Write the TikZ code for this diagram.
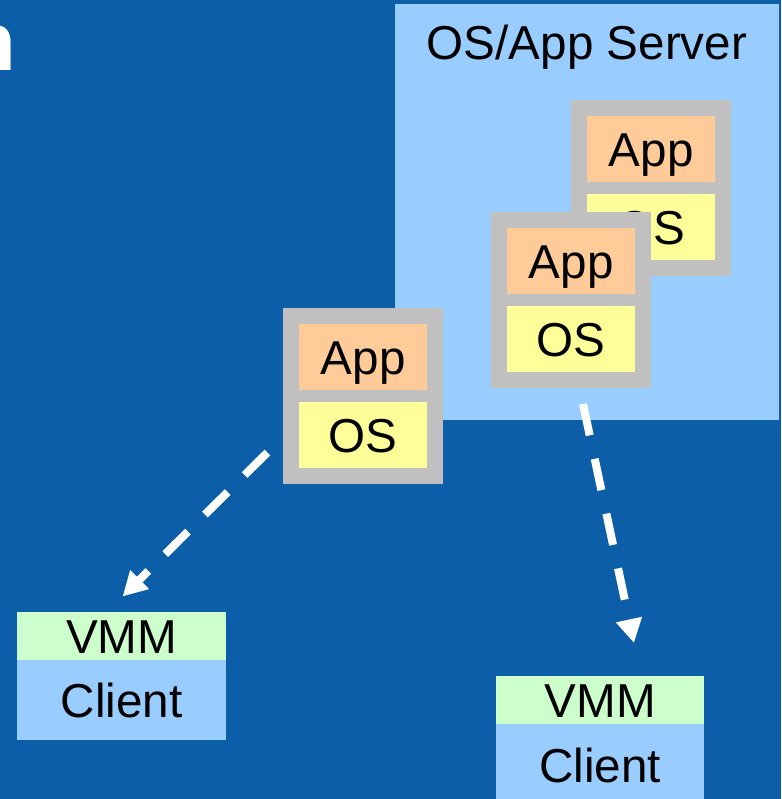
\documentclass[tikz,border=0pt]{standalone}
\usepackage{fontspec}
\setmainfont{Liberation Sans}
\usetikzlibrary{arrows.meta}
\definecolor{bgblue}{RGB}{11,94,167}
\definecolor{lightblue}{RGB}{153,204,255}
\definecolor{appc}{RGB}{255,204,153}
\definecolor{osc}{RGB}{255,255,153}
\definecolor{vmmc}{RGB}{204,255,204}
\definecolor{grayc}{RGB}{192,192,192}
\newcommand{\bodyfont}{\fontsize{47.6pt}{57pt}\selectfont}
\tikzset{
  box/.style={anchor=north west, inner sep=0pt, draw=none},
  stackbox/.style={box, fill=grayc, minimum width=160pt, minimum height=176pt},
  layer/.style={box, minimum width=128pt, minimum height=66pt, text height=34pt, text depth=0pt, font=\bodyfont},
  applayer/.style={layer, fill=appc},
  oslayer/.style={layer, fill=osc},
  vmmbox/.style={box, fill=vmmc, minimum width=209pt, minimum height=48pt, text height=34pt, text depth=0pt, font=\bodyfont},
  clientbox/.style={box, fill=lightblue, minimum width=209pt, text height=34pt, text depth=0pt, font=\bodyfont},
  conn/.style={white, line width=8pt, line cap=butt, dash pattern=on 32pt off 24pt, -{Triangle[length=24pt,width=25pt]}}
}
\begin{document}
\begin{tikzpicture}[x=1pt,y=-1pt]
\useasboundingbox (0,0) rectangle (781,799);
\fill[bgblue] (0,0) rectangle (781,799);
\begin{scope}
\clip (0,0) rectangle (781,799);
% fragment of a title letter at the left edge
\node (titlefrag) [anchor=base east, inner sep=0pt, text=white, font=\fontsize{83pt}{90pt}\selectfont\bfseries] at (16.5,71) {n};
% server area
\node (server) [box, fill=lightblue, minimum width=384pt, minimum height=416pt] at (395,4) {};
\node (title) [anchor=base, inner sep=0pt, font=\bodyfont] at (587,60) {OS/App Server};
% back stack
\node (backstack) [stackbox] at (571,100) {};
\node (backapp) [applayer] at (587,116) {App};
\node (backos) [oslayer] at (587,194) {OS};
% middle stack
\node (midstack) [stackbox] at (491,212) {};
\node (midapp) [applayer] at (507,228) {App};
\node (midos) [oslayer] at (507,306) {OS};
% front stack
\node (frontstack) [stackbox] at (283,308) {};
\node (frontapp) [applayer] at (299,324) {App};
\node (frontos) [oslayer] at (299,402) {OS};
% clients
\node (vmmL) [vmmbox] at (17,612) {VMM};
\node (clientL) [clientbox, minimum height=80pt] at (17,660) {Client};
\node (vmmR) [vmmbox, minimum width=208pt] at (496,676) {VMM};
\node (clientR) [clientbox, minimum width=208pt, minimum height=82pt] at (496,724) {Client};
% connectors
\coordinate (fromFront) at (283,437);
\coordinate (toVmmL) at (107,612);
\coordinate (fromMid) at (579.6,388);
\coordinate (toVmmR) at (641,676);
\draw[conn, shorten <=22pt, shorten >=22pt] (fromFront) -- (toVmmL);
\draw[conn, shorten <=16.4pt, shorten >=33.7pt] (fromMid) -- (toVmmR);
\end{scope}
\end{tikzpicture}
\end{document}
